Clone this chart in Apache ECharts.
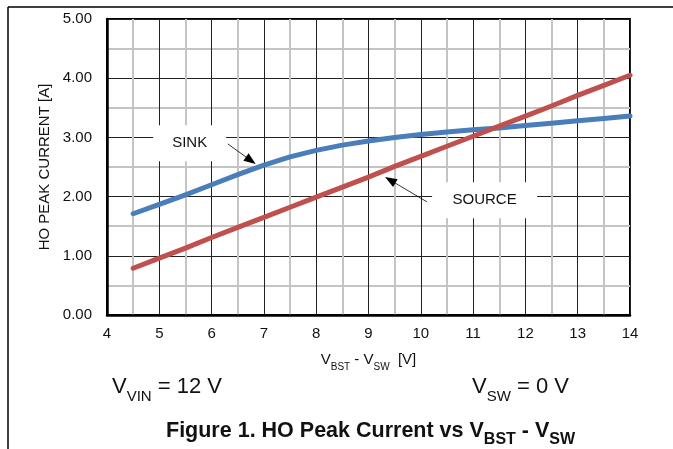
<!DOCTYPE html>
<html><head><meta charset="utf-8">
<script src="https://cdn.jsdelivr.net/npm/echarts@6/dist/echarts.min.js"></script>
<style>html,body{margin:0;padding:0;background:#fff}#c{width:673px;height:449px}</style>
</head><body><div id="c"></div>
<script>
const vbst   = [4.5, 5, 5.5, 6, 6.5, 7, 7.5, 8, 8.5, 9, 9.5, 10, 10.5, 11, 11.5, 12, 12.5, 13, 13.5, 14];
const sink   = [1.71, 1.87, 2.03, 2.20, 2.37, 2.53, 2.67, 2.78, 2.87, 2.94, 3.00, 3.05, 3.09, 3.13, 3.16, 3.20, 3.24, 3.28, 3.32, 3.36];
const source = [0.79, 0.96, 1.13, 1.31, 1.48, 1.65, 1.82, 1.99, 2.16, 2.33, 2.51, 2.68, 2.85, 3.02, 3.19, 3.36, 3.53, 3.71, 3.88, 4.05];
const FONT = '"Liberation Sans", Arial, sans-serif';

const chart = echarts.init(document.getElementById('c'), null, {renderer: 'canvas'});
const pairs = (ys) => vbst.map((x, i) => [x, ys[i]]);

const arrow = (from, to) => ({
  silent: true,
  symbol: ['none', 'triangle'],
  symbolSize: [9, 12],
  lineStyle: {color: '#000', width: 0.8, type: 'solid'},
  label: {show: false},
  emphasis: {disabled: true},
  animation: false,
  data: [[{coord: from}, {coord: to}]]
});
const box = (coord, size, text) => ({
  silent: true,
  animation: false,
  data: [{
    coord: coord, symbol: 'rect', symbolSize: size,
    itemStyle: {color: '#fff'},
    label: {show: true, position: 'inside', formatter: text, color: '#111', fontSize: 15, fontFamily: FONT}
  }]
});
const bigRich = (size, sub, weight) => ({
  m: {fontSize: size, fontWeight: weight, fontFamily: FONT, fill: '#111', lineHeight: size + 4, verticalAlign: 'middle'},
  s: {fontSize: sub, fontWeight: weight, fontFamily: FONT, fill: '#111', lineHeight: sub, verticalAlign: 'bottom', padding: [0, 0, -4, 0]}
});

chart.setOption({
  animation: false,
  grid: {left: 107, top: 19, right: 43, bottom: 134, show: true, borderColor: '#000', borderWidth: 2, backgroundColor: '#fff'},
  xAxis: {
    type: 'value', min: 4, max: 14, interval: 1,
    axisLine: {show: true, lineStyle: {color: '#000', width: 2.5}},
    axisTick: {show: false},
    axisLabel: {color: '#111', fontSize: 15, fontFamily: FONT, margin: 11},
    splitLine: {show: true, lineStyle: {color: '#222', width: 1}},
    minorTick: {show: false, splitNumber: 2},
    minorSplitLine: {show: true, lineStyle: {color: '#c4c4c4', width: 2}},
    name: '{m|V}{s|BST}{m| - V}{s|SW}{m|  [V]}',
    nameLocation: 'middle', nameGap: 36,
    nameTextStyle: {
      rich: {
        m: {fontSize: 15, fontFamily: FONT, color: '#111', lineHeight: 18, verticalAlign: 'middle'},
        s: {fontSize: 10, fontFamily: FONT, color: '#111', lineHeight: 12, verticalAlign: 'bottom', padding: [0, 0, -3, 0]}
      }
    }
  },
  yAxis: {
    type: 'value', min: 0, max: 5, interval: 1,
    axisLine: {show: true, lineStyle: {color: '#000', width: 2.5}},
    axisTick: {show: false},
    axisLabel: {color: '#111', fontSize: 15, fontFamily: FONT, margin: 15, formatter: v => v.toFixed(2)},
    splitLine: {show: true, lineStyle: {color: '#222', width: 1}},
    minorTick: {show: false, splitNumber: 2},
    minorSplitLine: {show: true, lineStyle: {color: '#c4c4c4', width: 2}},
    name: 'HO PEAK CURRENT [A]',
    nameLocation: 'middle', nameGap: 55,
    nameTextStyle: {fontSize: 15, fontFamily: FONT, color: '#111'}
  },
  series: [
    {
      name: 'SINK', type: 'line', data: pairs(sink),
      symbol: 'none', lineStyle: {color: '#4a7ebb', width: 5, cap: 'round', join: 'round'},
      markPoint: box([5.58, 2.90], [73, 36], 'SINK'),
      markLine: arrow([6.31, 2.89], [6.75, 2.61])
    },
    {
      name: 'SOURCE', type: 'line', data: pairs(source),
      symbol: 'none', lineStyle: {color: '#c0504d', width: 5, cap: 'round', join: 'round'},
      markPoint: box([11.22, 1.94], [105, 36], 'SOURCE'),
      markLine: arrow([10.12, 1.91], [9.415, 2.279])
    }
  ],
  graphic: [
    {type: 'line', shape: {x1: 8, y1: 7, x2: 673, y2: 7}, style: {stroke: '#000', lineWidth: 1.5}, silent: true},
    {type: 'line', shape: {x1: 8, y1: 7, x2: 8, y2: 449}, style: {stroke: '#000', lineWidth: 1.5}, silent: true},
    {type: 'text', left: 112, top: 376, silent: true, style: {
      text: '{m|V}{s|VIN}{m| = 12 V}', rich: bigRich(22, 15, 'normal')
    }},
    {type: 'text', left: 472, top: 376, silent: true, style: {
      text: '{m|V}{s|SW}{m| = 0 V}', rich: bigRich(22, 15, 'normal')
    }},
    {type: 'text', left: 166, top: 420, silent: true, style: {
      text: '{m|Figure 1. HO Peak Current vs V}{s|BST}{m| - V}{s|SW}', rich: bigRich(21.5, 16, 'bold')
    }}
  ]
});
</script>
</body></html>
